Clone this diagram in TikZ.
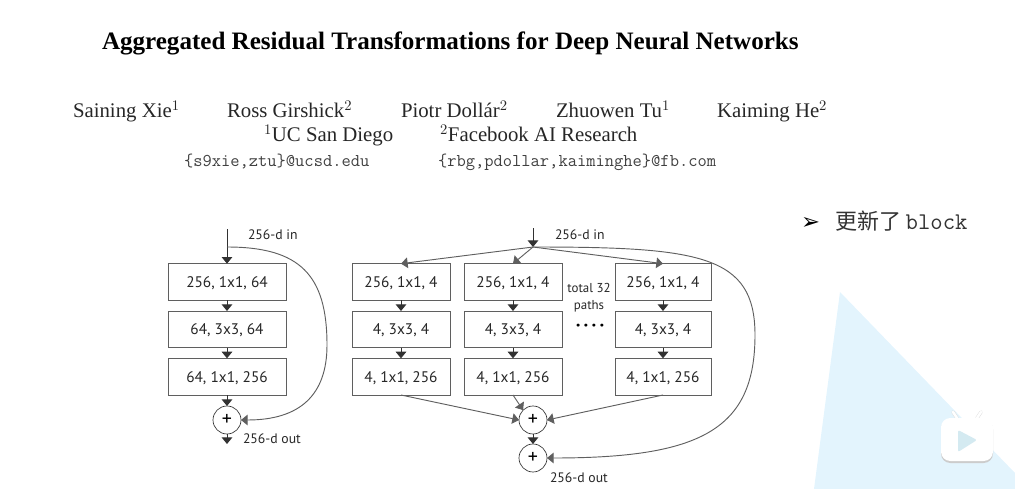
\documentclass[tikz,border=0pt]{standalone}
\usepackage{fontspec}
\setmainfont{Liberation Serif}
\newfontfamily\figfont{PT Sans}
\newfontfamily\cjk{Noto Sans CJK SC}
\newfontfamily\symfont{DejaVu Sans}
\definecolor{boxgray}{RGB}{95,95,95}
\definecolor{linedark}{RGB}{50,50,50}
\definecolor{skyblue}{RGB}{227,244,253}
\definecolor{iconplay}{RGB}{212,234,241}
\usetikzlibrary{arrows.meta,positioning}

\begin{document}
\begin{tikzpicture}[
        x=0.75pt, y=-0.75pt,
        every node/.style={inner sep=0pt, outer sep=0pt},
        headline/.style={font=\fontsize{18.8}{22}\selectfont\bfseries, anchor=base west},
        person/.style={font=\fontsize{15.6}{18}\selectfont, text=black!85, anchor=base west},
        mail/.style={font=\fontsize{13.5}{16}\selectfont\ttfamily, text=black!75, anchor=base west},
        block/.style={draw=boxgray, line width=0.7pt, minimum width=88.5pt, minimum height=27.5pt, text depth=0pt, font=\fontsize{11.5}{14}\selectfont\figfont, text=black!85},
        narrow/.style={block, minimum width=73.5pt},
        sumnode/.style={circle, draw=linedark, line width=0.5pt, minimum size=21pt, font=\fontsize{15}{16}\selectfont\figfont},
        note/.style={font=\fontsize{10.3}{12.4}\selectfont\figfont, text=black!85, align=center},
        flow/.style={draw=linedark, line width=0.7pt, -{Triangle[length=5pt,width=8pt]}},
        fanout/.style={draw=boxgray, line width=0.7pt, -{Triangle[length=5pt,width=8pt]}}
      ]
      \useasboundingbox (0,0) rectangle (1015,489);

      % watermark in the corner
      \fill[skyblue] (840,292) -- (814,489) -- (1015,489) -- (1015,473) -- cycle;
      \draw[black!12, line width=2.6pt, line cap=round] (957,418) -- (953,412);
      \draw[black!12, line width=2.6pt, line cap=round] (977,418) -- (981,412);
      \draw[white, line width=1.8pt, line cap=round] (957,418) -- (953,412);
      \draw[white, line width=1.8pt, line cap=round] (977,418) -- (981,412);
      \fill[black!20, rounded corners=7pt] (941,420) rectangle (993,463);
      \fill[white, rounded corners=7pt] (941,418) rectangle (993,461);
      \fill[iconplay, rounded corners=1.5pt] (958,430) -- (977,440) -- (958,452) -- cycle;

      % heading
      \node[headline] (title) at (102,50) {Aggregated Residual Transformations for Deep Neural Networks};
      \node[person] (xie) at (73,117) {Saining Xie$^1$};
      \node[person] (girshick) at (227,117) {Ross Girshick$^2$};
      \node[person] (dollar) at (401,117) {Piotr Dollár$^2$};
      \node[person] (tu) at (556,117) {Zhuowen Tu$^1$};
      \node[person] (he) at (717,117) {Kaiming He$^2$};
      \node[person] (ucsd) at (264,141) {$^1$UC San Diego};
      \node[person] (fair) at (440,141) {$^2$Facebook AI Research};
      \node[mail] (mailA) at (184,166) {\{s9xie,ztu\}@ucsd.edu};
      \node[mail] (mailB) at (438,166) {\{rbg,pdollar,kaiminghe\}@fb.com};

      % side note
      \node[font=\fontsize{17}{19}\selectfont\symfont, anchor=base west] (bullet) at (801,229) {➢};
      \node[font=\fontsize{16.5}{20}\selectfont, text=black!80, anchor=base west] (update) at (835,229) {{\cjk 更新了}\hspace{3.5pt}{\fontsize{18}{20}\selectfont\ttfamily block}};

      % left: residual block
      \coordinate (inL) at (227,229);
      \coordinate (splitL) at (227,247);
      \node[block] (a1) at (227,282) {256, 1x1, 64};
      \node[block, below=8pt of a1] (a2) {64, 3x3, 64};
      \node[block, below=8pt of a2] (a3) {64, 1x1, 256};
      \node[sumnode] (sumL) at (227,420) {+};
      \coordinate (outL) at (227,444);
      \node[note, anchor=west] (inLlabel) at (248,235) {256-d in};
      \node[note, anchor=west] (outLlabel) at (243,439) {256-d out};
      \draw[flow] (inL) -- (a1.north);
      \draw[flow] (a1) -- (a2);
      \draw[flow] (a2) -- (a3);
      \draw[flow] (a3) -- (sumL);
      \draw[flow] (sumL) -- (outL);
      \draw[fanout] (splitL) .. controls (300,247) and (327,275) .. (327,345) .. controls (327,395) and (300,420) .. (sumL.east);

      % right: aggregated block
      \coordinate (inR) at (533,228);
      \coordinate (splitR) at (533,247);
      \node[narrow] (b1) at (401,282) {256, 1x1, 4};
      \node[narrow, below=8pt of b1] (b2) {4, 3x3, 4};
      \node[narrow, below=8pt of b2] (b3) {4, 1x1, 256};
      \node[narrow] (c1) at (513,282) {256, 1x1, 4};
      \node[narrow, below=8pt of c1] (c2) {4, 3x3, 4};
      \node[narrow, below=8pt of c2] (c3) {4, 1x1, 256};
      \node[narrow, minimum width=72pt] (d1) at (663,282) {256, 1x1, 4};
      \node[narrow, minimum width=72pt, below=8pt of d1] (d2) {4, 3x3, 4};
      \node[narrow, minimum width=72pt, below=8pt of d2] (d3) {4, 1x1, 256};
      \node[sumnode] (sumR) at (533,420) {+};
      \node[sumnode] (sumOut) at (533,458) {+};
      \node[note, anchor=west] (inRlabel) at (555,235) {256-d in};
      \node[note, anchor=west] (outRlabel) at (550,478) {256-d out};
      \node[note, font=\fontsize{9.7}{12.6}\selectfont\figfont] (paths) at (589,298) {total 32\\paths};
      \node[font=\fontsize{14}{16}\selectfont\bfseries\figfont] (dots) at (590,328) {·\hspace{2.4pt}·\hspace{2.4pt}·\hspace{2.4pt}·};
      \draw[flow] (inR) -- (splitR);
      \draw[fanout] (splitR) -- (b1.north);
      \draw[fanout] (splitR) -- (c1.north);
      \draw[fanout] (splitR) -- (d1.north);
      \draw[flow] (b1) -- (b2);
      \draw[flow] (b2) -- (b3);
      \draw[flow] (c1) -- (c2);
      \draw[flow] (c2) -- (c3);
      \draw[flow] (d1) -- (d2);
      \draw[flow] (d2) -- (d3);
      \draw[fanout] (b3.south) -- (sumR.west);
      \draw[fanout] (c3.south) -- (sumR.north west);
      \draw[fanout] (d3.south) -- (sumR.east);
      \draw[flow] (sumR) -- (sumOut);
      \draw[fanout] (splitR) .. controls (700,247) and (755,255) .. (755,335) .. controls (755,430) and (700,458) .. (sumOut.east);
    \end{tikzpicture}
\end{document}
